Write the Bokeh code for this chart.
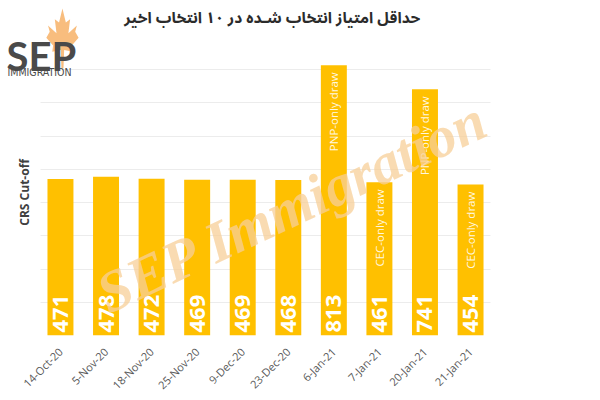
from bokeh.plotting import figure
from bokeh.models import ColumnDataSource, FactorRange, Range1d, Label, PolyAnnotation, SingleIntervalTicker
from bokeh.core.properties import value
from bokeh.embed import file_html
from bokeh.resources import INLINE

dates = ["14-Oct-20", "5-Nov-20", "18-Nov-20", "25-Nov-20", "9-Dec-20",
         "23-Dec-20", "6-Jan-21", "7-Jan-21", "20-Jan-21", "21-Jan-21"]
scores = [471, 478, 472, 469, 469, 468, 813, 461, 741, 454]
notes = ["", "", "", "", "", "", "PNP-only draw", "CEC-only draw", "PNP-only draw", "CEC-only draw"]
title_text = "حداقل امتیاز انتخاب شـده در ۱۰ انتخاب اخیر"
y_label = "CRS Cut-off"

BAR = "#FFC000"

src = ColumnDataSource(dict(
    date=dates, score=scores, note=notes,
    label=[str(s) for s in scores],
    base=[0] * len(scores),
))

p = figure(width=600, height=400, output_backend="svg", toolbar_location=None,
           x_range=FactorRange(*dates, range_padding=0.816, range_padding_units="absolute"),
           y_range=Range1d(0, 1008),
           min_border_left=0, min_border_right=70, min_border_top=0, min_border_bottom=63)


# helpers: place decorations by reference-pixel position
def dx(px):
    return px / 45.6 - 0.816


def dy(py):
    return (337 - py) / 0.3344


p.title.text = ""
p.outline_line_color = None
p.xgrid.grid_line_color = None
p.ygrid.grid_line_color = "#ececec"
p.ygrid.ticker = SingleIntervalTicker(interval=100)
p.ygrid.bounds = (0, 850)
p.ygrid.cross_bounds = (dx(40), dx(490))
p.yaxis.visible = False

p.xaxis.axis_line_color = None
p.xaxis.major_tick_line_color = None
p.xaxis.minor_tick_line_color = None
p.xaxis.major_tick_out = 0
p.xaxis.major_tick_in = 0
p.xaxis.minor_tick_out = 0
p.xaxis.major_label_orientation = 0.785
p.xaxis.major_label_text_font = "Open Sans"
p.xaxis.major_label_text_font_size = "11px"
p.xaxis.major_label_text_color = "#595959"
p.xaxis.major_label_standoff = 14

p.vbar(x="date", top="score", bottom="base", width=0.57, source=src,
       fill_color=BAR, line_color=None)

p.text(x="date", y="base", text="label", source=src, angle=1.5708,
       text_align="left", text_baseline="middle", y_offset=-3,
       text_font=value("Open Sans"), text_font_style="bold",
       text_font_size="22px", text_color="white")

p.text(x="date", y="score", text="note", source=src, angle=1.5708,
       text_align="right", text_baseline="middle", y_offset=7,
       text_font=value("Open Sans"), text_font_size="11.5px",
       text_color="white", text_alpha=0.9)

# watermark
p.add_layout(Label(x=dx(292), y=dy(207), text="SEP Immigration", angle=0.44,
                   text_align="center", text_baseline="middle",
                   text_font="Liberation Serif", text_font_style="bold italic",
                   text_font_size="58px", text_color="#F7CF98", text_alpha=0.75))

# title
p.add_layout(Label(x=dx(272), y=dy(18), text=title_text,
                   text_align="center", text_baseline="middle",
                   text_font="Noto Sans Arabic", text_font_style="bold",
                   text_font_size="15.5px", text_color="#2b2b2b"))

# y axis title
p.add_layout(Label(x=dx(24), y=dy(193), text=y_label, angle=1.5708,
                   text_align="center", text_baseline="middle",
                   text_font="Open Sans", text_font_style="bold",
                   text_font_size="12px", text_color="#404040"))

# logo
leaf = [(0, 1), (0.2, 0.55), (0.45, 0.65), (0.35, 0.2), (0.85, 0.45), (0.75, 0.25),
        (0.95, 0.05), (0.55, -0.2), (0.6, -0.4), (0.1, -0.35), (0.06, -0.95),
        (-0.06, -0.95), (-0.1, -0.35), (-0.6, -0.4), (-0.55, -0.2), (-0.95, 0.05),
        (-0.75, 0.25), (-0.85, 0.45), (-0.35, 0.2), (-0.45, 0.65), (-0.2, 0.55)]
p.add_layout(PolyAnnotation(xs=[dx(62 + 17 * a) for a, b in leaf],
                            ys=[dy(39 - 31 * b) for a, b in leaf],
                            fill_color="#F8BD7E", fill_alpha=1, line_color=None))
p.add_layout(Label(x=dx(6), y=dy(56), text="SEP", text_baseline="alphabetic",
                   text_font="Lato", text_font_style="bold",
                   text_font_size="40px", text_color="#4a4a4a"))
p.add_layout(Label(x=dx(7), y=dy(72), text="IMMIGRATION", text_baseline="alphabetic",
                   text_font="DejaVu Sans Condensed",
                   text_font_size="10.5px", text_color="#4a4a4a"))

open("out.html", "w").write(file_html(p, INLINE))
